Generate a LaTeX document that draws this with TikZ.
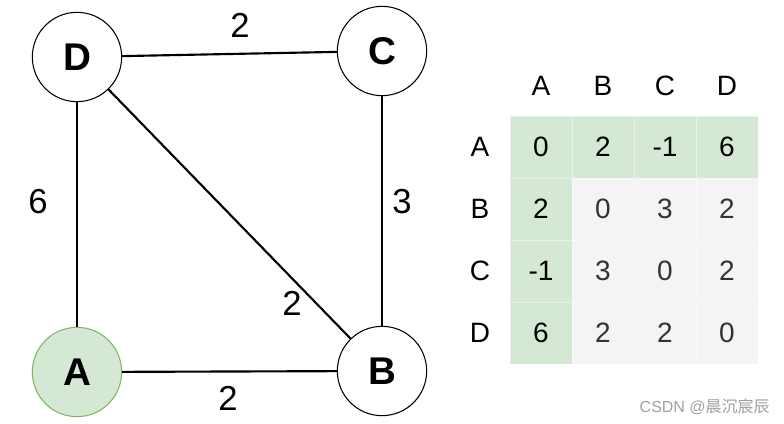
\documentclass[tikz,border=0pt]{standalone}
\usepackage{fontspec}
\setmainfont{Liberation Sans}
\newfontfamily\cjk{Noto Sans CJK SC}
\definecolor{gfill}{HTML}{D5E8D4}
\definecolor{gdraw}{HTML}{82B366}
\definecolor{cgray}{HTML}{F4F4F4}
\definecolor{tgray}{HTML}{333333}
\definecolor{wm}{HTML}{A0A0A0}
\begin{document}
\begin{tikzpicture}[x=0.75pt,y=-0.75pt,
  vert/.style={circle,draw=black,line width=0.8pt,fill=white,minimum size=67pt,inner sep=0pt,font=\fontsize{29}{31}\selectfont\bfseries},
  edge/.style={line width=1.6pt},
  wlab/.style={font=\fontsize{26}{28}\selectfont,inner sep=0pt},
  cell/.style={rectangle,draw=white,draw opacity=0.45,line width=0.4pt,minimum width=46.5pt,minimum height=46.5pt,inner sep=0pt,font=\fontsize{21}{23}\selectfont},
  gcell/.style={cell,fill=gfill,text=black},
  pcell/.style={cell,fill=cgray,text=tgray},
  hlab/.style={font=\fontsize{21}{23}\selectfont,inner sep=0pt}]
\useasboundingbox[fill=white] (0,0) rectangle (784,424);
% graph
\node[vert] (D) at (77,57) {D};
\node[vert] (C) at (382,51) {C};
\node[vert,fill=gfill,draw=gdraw] (A) at (77,372) {A};
\node[vert] (B) at (382,371) {B};
\draw[edge] (D) -- (C);
\draw[edge] (D) -- (A);
\draw[edge] (D) -- (B);
\draw[edge] (C) -- (B);
\draw[edge] (A) -- (B);
\node[wlab] (lDC) at (240,25) {2};
\node[wlab] (lDA) at (38,202) {6};
\node[wlab] (lCB) at (402,202) {3};
\node[wlab] (lDB) at (292,303) {2};
\node[wlab] (lAB) at (228,398) {2};
% table headers
\node[hlab] (hA) at (541,86) {A};
\node[hlab] (hB) at (603,86) {B};
\node[hlab] (hC) at (665,86) {C};
\node[hlab] (hD) at (727,86) {D};
\node[hlab] (rA) at (480,147) {A};
\node[hlab] (rB) at (480,209) {B};
\node[hlab] (rC) at (480,271) {C};
\node[hlab] (rD) at (480,333) {D};
% row A
\node[gcell] (AA) at (541,147) {0};
\node[gcell] (AB) at (603,147) {2};
\node[gcell] (AC) at (665,147) {-1};
\node[gcell] (AD) at (727,147) {6};
% row B
\node[gcell] (BA) at (541,209) {2};
\node[pcell] (BB) at (603,209) {0};
\node[pcell] (BC) at (665,209) {3};
\node[pcell] (BD) at (727,209) {2};
% row C
\node[gcell] (CA) at (541,271) {-1};
\node[pcell] (CB) at (603,271) {3};
\node[pcell] (CC) at (665,271) {0};
\node[pcell] (CD) at (727,271) {2};
% row D
\node[gcell] (DA) at (541,333) {6};
\node[pcell] (DB) at (603,333) {2};
\node[pcell] (DC) at (665,333) {2};
\node[pcell] (DD) at (727,333) {0};
% watermark
\node[text=wm,font=\fontsize{12}{14}\selectfont,inner sep=0pt,anchor=east] (wmk) at (770,407) {CSDN @{\cjk 晨沉宸辰}};
\end{tikzpicture}
\end{document}
